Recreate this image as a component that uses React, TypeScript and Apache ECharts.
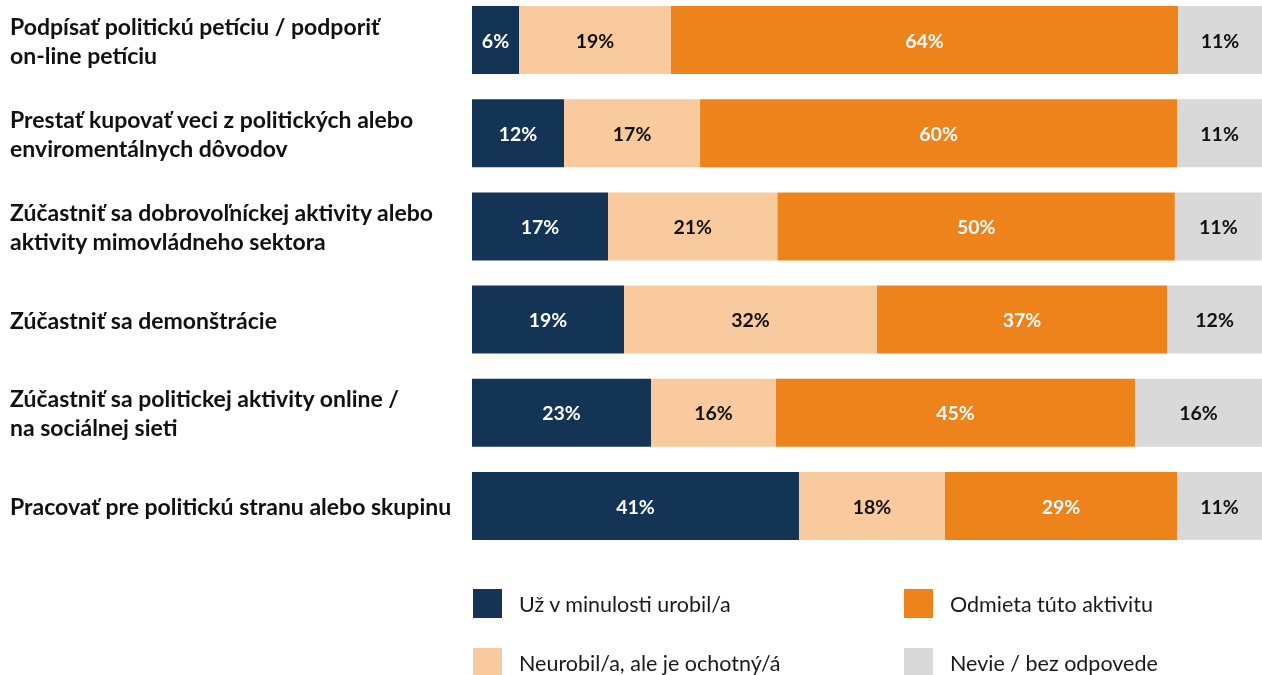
import React, { useEffect, useRef } from "react";
import * as echarts from "echarts";

const categories = [
  "Podpísať politickú petíciu / podporiť\non-line petíciu",
  "Prestať kupovať veci z politických alebo\nenviromentálnych dôvodov",
  "Zúčastniť sa dobrovoľníckej aktivity alebo\naktivity mimovládneho sektora",
  "Zúčastniť sa demonštrácie",
  "Zúčastniť sa politickej aktivity online /\nna sociálnej sieti",
  "Pracovať pre politickú stranu alebo skupinu",
];

const seriesNames = [
  "Už v minulosti urobil/a",
  "Neurobil/a, ale je ochotný/á",
  "Odmieta túto aktivitu",
  "Nevie / bez odpovede",
];

const doneBefore = [5.95, 11.65, 17.22, 19.24, 22.66, 41.39];
const willing = [19.24, 17.22, 21.45, 32.03, 15.82, 18.48];
const refuses = [64.18, 60.38, 50.3, 36.71, 45.44, 29.37];
const dontKnow = [10.63, 10.76, 11.01, 12.03, 16.08, 10.76];

const colors = ["#143456", "#F8CA9D", "#EE831B", "#D9D9D9"];
const labelColors = ["#ffffff", "#111111", "#ffffff", "#111111"];

const legendPos = [
  { left: 473, top: 589 },
  { left: 473, top: 648 },
  { left: 904, top: 589 },
  { left: 904, top: 648 },
];

export default function App() {
  const ref = useRef<HTMLDivElement>(null);
  useEffect(() => {
    if (!ref.current) return;
    const chart = echarts.init(ref.current, undefined, { renderer: "svg" });
    const values = [doneBefore, willing, refuses, dontKnow];
    const font = "Lato, 'Noto Sans', sans-serif";
    chart.setOption({
      animation: false,
      color: colors,
      grid: { left: 472, right: 0, top: 40, height: 466, containLabel: false },
      xAxis: {
        type: "value",
        min: 0,
        max: 100,
        show: false,
      },
      yAxis: {
        type: "category",
        inverse: true,
        boundaryGap: false,
        data: categories,
        axisLine: { show: false },
        axisTick: { show: false },
        splitLine: { show: false },
        axisLabel: {
          align: "left",
          margin: 462,
          fontFamily: font,
          fontWeight: "bold",
          fontSize: 23,
          lineHeight: 29,
          color: "#111111",
        },
      },
      legend: seriesNames.map((name, i) => ({
        orient: "horizontal",
        left: legendPos[i].left,
        top: legendPos[i].top,
        padding: 0,
        itemWidth: 29,
        itemHeight: 29,
        icon: "rect",
        selectedMode: false,
        data: [name],
        textStyle: {
          fontFamily: font,
          fontSize: 21.5,
          color: "#1a1a1a",
          padding: [0, 0, 0, 12],
        },
      })),
      series: seriesNames.map((name, i) => ({
        name,
        type: "bar",
        stack: "total",
        barWidth: 68,
        clip: false,
        data: values[i],
        itemStyle: { color: colors[i] },
        label: {
          show: true,
          position: "inside",
          formatter: (p: any) => `${Math.round(p.value)}%`,
          color: labelColors[i],
          fontFamily: font,
          fontWeight: "bold",
          fontSize: 19.5,
        },
        emphasis: { disabled: true },
      })),
    });
    return () => chart.dispose();
  }, []);
  return (
    <div
      ref={ref}
      style={{ position: "fixed", left: 0, top: 0, width: 1262, height: 675 }}
    />
  );
}
